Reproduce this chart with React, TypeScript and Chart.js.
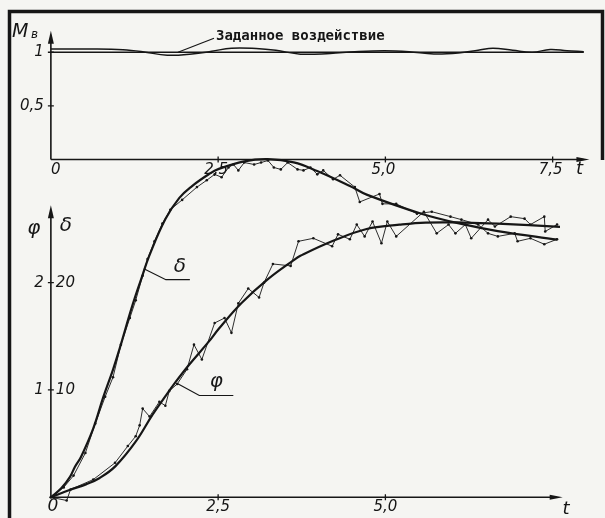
import React, { useEffect, useRef } from "react";
import { Chart, registerables } from "chart.js";

Chart.register(...registerables);

// ---- axis ticks ----
const T_TICKS_TOP = [2.5, 5.0, 7.5];
const T_TICK_LABELS_TOP = ["2,5", "5,0", "7,5"];
const T_TICKS_BOTTOM = [2.5, 5.0];
const T_TICK_LABELS_BOTTOM = ["2,5", "5,0"];
const M_TICKS = [0.5, 1];
const M_TICK_LABELS = ["0,5", "1"];
const PHI_TICKS = [1, 2];
const PHI_TICK_LABELS = ["1", "2"];
const DELTA_TICKS = [10, 20];
const DELTA_TICK_LABELS = ["10", "20"];

// ---- top chart: M_в ----
const SETPOINT_T = [0, 7.965];
const SETPOINT = [1, 1];
const M_T = [0, 0.634, 1.077, 1.372, 1.74, 2.109, 2.404, 2.699, 3.068, 3.363, 3.732, 4.174, 4.543, 4.985, 5.354, 5.723, 6.091, 6.386, 6.608, 6.903, 7.198, 7.463, 7.714, 7.965];
const M_VALUES = [1.03, 1.03, 1.023, 1.005, 0.972, 0.984, 1.009, 1.038, 1.035, 1.018, 0.982, 0.989, 1.005, 1.014, 1.005, 0.984, 0.993, 1.018, 1.038, 1.018, 1.0, 1.026, 1.014, 1.005];

// ---- bottom chart: δ (right scale) ----
const DELTA_SMOOTH_T = [0, 0.155, 0.288, 0.36, 0.45, 0.634, 0.782, 0.929, 1.03, 1.22, 1.37, 1.47, 1.71, 1.92, 2.11, 2.36, 2.51, 2.89, 3.24, 3.63, 3.98, 4.47, 4.72, 5.55, 6.19, 6.68, 7.57];
const DELTA_SMOOTH = [0, 0.83, 1.93, 2.84, 3.76, 6.42, 9.3, 11.9, 13.9, 17.9, 20.7, 22.5, 25.9, 27.9, 29.0, 30.1, 30.6, 31.3, 31.5, 31.2, 30.4, 29.0, 28.2, 26.4, 25.4, 24.8, 24.0];
const DELTA_EXP_T = [0, 0.192, 0.339, 0.516, 0.664, 0.811, 0.929, 1.047, 1.18, 1.268, 1.372, 1.445, 1.549, 1.667, 1.785, 1.962, 2.183, 2.33, 2.448, 2.552, 2.655, 2.729, 2.802, 2.891, 3.038, 3.142, 3.245, 3.333, 3.437, 3.54, 3.687, 3.776, 3.879, 3.982, 4.071, 4.218, 4.322, 4.543, 4.617, 4.912, 4.956, 5.162, 5.472, 5.693, 5.973, 6.136, 6.386, 6.534, 6.681, 6.932, 6.976, 7.168, 7.375, 7.566];
const DELTA_EXP = [0, 0.92, 2.02, 4.13, 6.88, 9.36, 11.19, 14.22, 16.7, 18.35, 20.64, 22.2, 23.85, 25.5, 26.79, 27.71, 28.9, 29.54, 30.09, 29.82, 30.73, 31.01, 30.46, 31.19, 31.01, 31.19, 31.38, 30.73, 30.55, 31.19, 30.55, 30.46, 30.73, 30.09, 30.46, 29.63, 30.0, 28.9, 27.52, 28.26, 27.34, 27.34, 26.42, 26.61, 26.15, 25.87, 25.41, 24.59, 24.31, 24.59, 23.85, 24.13, 23.58, 24.04];

// ---- bottom chart: φ (left scale) ----
const PHI_SMOOTH_T = [0, 0.288, 0.524, 0.73, 0.966, 1.27, 1.52, 1.71, 1.86, 2.06, 2.36, 2.51, 2.85, 3.24, 3.63, 3.73, 4.22, 4.72, 5.21, 5.6, 6.19, 6.68, 7.61];
const PHI_SMOOTH = [0, 0.07, 0.12, 0.18, 0.29, 0.52, 0.77, 0.94, 1.07, 1.23, 1.45, 1.57, 1.81, 2.03, 2.21, 2.25, 2.39, 2.5, 2.54, 2.56, 2.56, 2.55, 2.52];
const PHI_EXP_T = [0, 0.236, 0.295, 0.634, 0.959, 1.15, 1.268, 1.327, 1.372, 1.475, 1.622, 1.711, 1.77, 1.888, 2.035, 2.139, 2.257, 2.448, 2.596, 2.699, 2.802, 2.95, 3.112, 3.186, 3.319, 3.584, 3.702, 3.923, 4.204, 4.292, 4.469, 4.572, 4.69, 4.808, 4.941, 5.029, 5.162, 5.575, 5.767, 5.944, 6.047, 6.195, 6.283, 6.534, 6.637, 6.873, 7.08, 7.168, 7.375, 7.389, 7.566];
const PHI_EXP = [0, -0.03, 0.073, 0.165, 0.321, 0.477, 0.569, 0.67, 0.826, 0.752, 0.89, 0.853, 0.991, 1.055, 1.193, 1.422, 1.284, 1.624, 1.67, 1.532, 1.807, 1.945, 1.862, 2.0, 2.174, 2.156, 2.385, 2.413, 2.339, 2.45, 2.404, 2.541, 2.431, 2.569, 2.367, 2.569, 2.431, 2.661, 2.459, 2.541, 2.459, 2.541, 2.413, 2.587, 2.523, 2.615, 2.596, 2.541, 2.615, 2.477, 2.541];

const INK = "#161616";
const PAPER = "#f5f5f2";
const HAND = "italic 15px 'DejaVu Sans'";
const MONO = "bold 14px 'DejaVu Sans Mono'";

const pts = (xs: number[], ys: number[]) => xs.map((x, i) => ({ x, y: ys[i] }));

function arrowUp(ctx: CanvasRenderingContext2D, x: number, y: number) {
  ctx.beginPath();
  ctx.moveTo(x, y);
  ctx.lineTo(x - 3, y + 13);
  ctx.lineTo(x + 3, y + 13);
  ctx.closePath();
  ctx.fill();
}
function arrowRight(ctx: CanvasRenderingContext2D, x: number, y: number) {
  ctx.beginPath();
  ctx.moveTo(x, y);
  ctx.lineTo(x - 13, y - 2.5);
  ctx.lineTo(x - 13, y + 2.5);
  ctx.closePath();
  ctx.fill();
}

const decoPlugin = {
  id: "deco",
  beforeDraw(chart: any) {
    const ctx = chart.ctx as CanvasRenderingContext2D;
    ctx.save();
    ctx.fillStyle = PAPER;
    ctx.fillRect(0, 0, chart.width, chart.height);
    ctx.restore();
  },
  beforeDatasetsDraw(chart: any) {
    const ctx = chart.ctx as CanvasRenderingContext2D;
    const xs = chart.scales.x;
    const yT = chart.scales.yTop;
    const yP = chart.scales.yPhi;
    const yD = chart.scales.yDelta;
    const x0 = xs.getPixelForValue(0);
    const topY0 = yT.getPixelForValue(0);
    const botY0 = yP.getPixelForValue(0);
    ctx.save();
    ctx.strokeStyle = INK;
    ctx.fillStyle = INK;

    // frame
    ctx.lineWidth = 3.5;
    ctx.beginPath();
    ctx.moveTo(9.5, chart.height);
    ctx.lineTo(9.5, 11.5);
    ctx.lineTo(602.5, 11.5);
    ctx.lineTo(602.5, 160);
    ctx.stroke();

    // top axes
    ctx.lineWidth = 1.6;
    const topArrowY = yT.getPixelForValue(1.2);
    ctx.beginPath();
    ctx.moveTo(x0, topY0);
    ctx.lineTo(x0, topArrowY + 6);
    ctx.moveTo(x0, topY0);
    ctx.lineTo(xs.getPixelForValue(8.05) - 6, topY0);
    ctx.stroke();
    arrowUp(ctx, x0, topArrowY);
    arrowRight(ctx, xs.getPixelForValue(8.05), topY0);

    // bottom axes
    const botArrowY = yP.getPixelForValue(2.72);
    ctx.beginPath();
    ctx.moveTo(x0, botY0);
    ctx.lineTo(x0, botArrowY + 6);
    ctx.moveTo(x0, botY0);
    ctx.lineTo(xs.getPixelForValue(7.65) - 6, botY0);
    ctx.stroke();
    arrowUp(ctx, x0, botArrowY);
    arrowRight(ctx, xs.getPixelForValue(7.65), botY0);

    // tick marks
    ctx.lineWidth = 1.3;
    ctx.beginPath();
    T_TICKS_TOP.forEach((t) => {
      const px = xs.getPixelForValue(t);
      ctx.moveTo(px, topY0 - 3);
      ctx.lineTo(px, topY0 + 3);
    });
    T_TICKS_BOTTOM.forEach((t) => {
      const px = xs.getPixelForValue(t);
      ctx.moveTo(px, botY0 - 3);
      ctx.lineTo(px, botY0 + 3);
    });
    M_TICKS.forEach((v) => {
      const py = yT.getPixelForValue(v);
      ctx.moveTo(x0 - 3, py);
      ctx.lineTo(x0 + 3, py);
    });
    PHI_TICKS.forEach((v) => {
      const py = yP.getPixelForValue(v);
      ctx.moveTo(x0 - 3, py);
      ctx.lineTo(x0 + 3, py);
    });
    ctx.stroke();

    // tick labels
    ctx.font = HAND;
    ctx.textBaseline = "top";
    ctx.textAlign = "center";
    T_TICKS_TOP.forEach((t, i) => {
      ctx.fillText(T_TICK_LABELS_TOP[i], xs.getPixelForValue(t) - 2, topY0 + 3);
    });
    ctx.fillText("0", x0 + 5, topY0 + 3);
    ctx.font = "italic 18px 'DejaVu Sans'";
    ctx.fillText("t", xs.getPixelForValue(7.9), topY0 + 1);
    ctx.fillText("t", xs.getPixelForValue(7.7), botY0 + 3);
    ctx.font = HAND;
    T_TICKS_BOTTOM.forEach((t, i) => {
      ctx.fillText(T_TICK_LABELS_BOTTOM[i], xs.getPixelForValue(t), botY0 + 2);
    });
    ctx.font = "italic 17px 'DejaVu Sans'";
    ctx.fillText("0", x0 + 2, botY0 + 1);

    ctx.font = HAND;
    ctx.textBaseline = "middle";
    ctx.textAlign = "right";
    M_TICKS.forEach((v, i) => {
      ctx.fillText(M_TICK_LABELS[i], x0 - 7, yT.getPixelForValue(v));
    });
    PHI_TICKS.forEach((v, i) => {
      ctx.fillText(PHI_TICK_LABELS[i], x0 - 7, yP.getPixelForValue(v));
    });
    ctx.textAlign = "left";
    DELTA_TICKS.forEach((v, i) => {
      ctx.fillText(DELTA_TICK_LABELS[i], x0 + 5, yD.getPixelForValue(v));
    });

    // axis titles
    ctx.font = "italic 19px 'DejaVu Sans'";
    ctx.textAlign = "left";
    ctx.textBaseline = "alphabetic";
    ctx.fillText("M", 12, 37);
    ctx.font = "italic 12px 'DejaVu Sans'";
    ctx.fillText("в", 31, 38);
    ctx.font = "italic 20px 'DejaVu Sans'";
    ctx.textBaseline = "middle";
    ctx.textAlign = "center";
    ctx.fillText("φ", x0 - 17, yP.getPixelForValue(2.5));
    ctx.fillText("δ", x0 + 15, yP.getPixelForValue(2.53));
    ctx.restore();
  },
  afterDatasetsDraw(chart: any) {
    const ctx = chart.ctx as CanvasRenderingContext2D;
    const xs = chart.scales.x;
    const yT = chart.scales.yTop;
    const yP = chart.scales.yPhi;
    const yD = chart.scales.yDelta;
    ctx.save();
    ctx.strokeStyle = INK;
    ctx.fillStyle = INK;
    ctx.lineWidth = 1.2;

    // setpoint label
    const sx = xs.getPixelForValue(1.9);
    const sy = yT.getPixelForValue(1);
    ctx.beginPath();
    ctx.moveTo(sx, sy);
    ctx.lineTo(sx + 36, sy - 14);
    ctx.stroke();
    ctx.font = MONO;
    ctx.textAlign = "left";
    ctx.textBaseline = "middle";
    ctx.fillText("Заданное воздействие", sx + 38, sy - 16);

    // δ label
    const dx = xs.getPixelForValue(1.39);
    const dy = yD.getPixelForValue(21.3);
    ctx.beginPath();
    ctx.moveTo(dx, dy);
    ctx.lineTo(dx + 22, dy + 11);
    ctx.lineTo(dx + 46, dy + 11);
    ctx.stroke();
    ctx.font = "italic 20px 'DejaVu Sans'";
    ctx.textAlign = "center";
    ctx.fillText("δ", dx + 36, dy - 2);

    // φ label
    const fx = xs.getPixelForValue(1.89);
    const fy = yP.getPixelForValue(1.06);
    ctx.beginPath();
    ctx.moveTo(fx, fy);
    ctx.lineTo(fx + 22, fy + 12);
    ctx.lineTo(fx + 56, fy + 12);
    ctx.stroke();
    ctx.fillText("φ", fx + 39, fy - 2);
    ctx.restore();
  },
};

export default function App() {
  const ref = useRef<HTMLCanvasElement | null>(null);
  useEffect(() => {
    if (!ref.current) return;
    const pxPerT = 67.8;
    const xMin = -47.5 / pxPerT;
    const xMax = xMin + 605 / pxPerT;
    const topMax = 158 / 109;
    const topMin = topMax - 518 / 109;
    const phiMax = 501 / 109;
    const phiMin = phiMax - 518 / 109;
    const smooth = { borderColor: INK, borderWidth: 2.2, pointRadius: 0, tension: 0.4, fill: false };
    const exp = { borderColor: INK, backgroundColor: INK, borderWidth: 0.9, pointRadius: 1.3, pointBorderWidth: 0, tension: 0, fill: false };
    const chart = new Chart(ref.current, {
      type: "line",
      data: {
        datasets: [
          { ...smooth, borderWidth: 1.4, data: pts(SETPOINT_T, SETPOINT), yAxisID: "yTop", tension: 0 },
          { ...smooth, borderWidth: 1.5, data: pts(M_T, M_VALUES), yAxisID: "yTop" },
          { ...exp, data: pts(DELTA_EXP_T, DELTA_EXP), yAxisID: "yDelta" },
          { ...smooth, data: pts(DELTA_SMOOTH_T, DELTA_SMOOTH), yAxisID: "yDelta" },
          { ...exp, data: pts(PHI_EXP_T, PHI_EXP), yAxisID: "yPhi" },
          { ...smooth, data: pts(PHI_SMOOTH_T, PHI_SMOOTH), yAxisID: "yPhi" },
        ] as any,
      },
      options: {
        animation: false,
        responsive: false,
        maintainAspectRatio: false,
        devicePixelRatio: 1,
        layout: { padding: 0 },
        plugins: { legend: { display: false }, tooltip: { enabled: false }, title: { display: false } },
        events: [],
        scales: {
          x: { type: "linear", min: xMin, max: xMax, display: false },
          yTop: { type: "linear", min: topMin, max: topMax, display: false },
          yPhi: { type: "linear", min: phiMin, max: phiMax, display: false },
          yDelta: { type: "linear", min: phiMin * 10, max: phiMax * 10, display: false },
        },
      },
      plugins: [decoPlugin],
    });
    let alive = true;
    const fonts = (document as any).fonts;
    if (fonts && fonts.load) {
      Promise.all([fonts.load(MONO, "Заданное"), fonts.load(HAND, "0,5φδ"), fonts.load("italic 19px 'DejaVu Sans'", "M")])
        .then(() => { if (alive) chart.draw(); })
        .catch(() => {});
    }
    return () => { alive = false; chart.destroy(); };
  }, []);
  return (
    <div style={{ position: "fixed", left: 0, top: 0, width: 605, height: 518 }}>
      <canvas ref={ref} width={605} height={518} style={{ display: "block", width: 605, height: 518 }} />
    </div>
  );
}
